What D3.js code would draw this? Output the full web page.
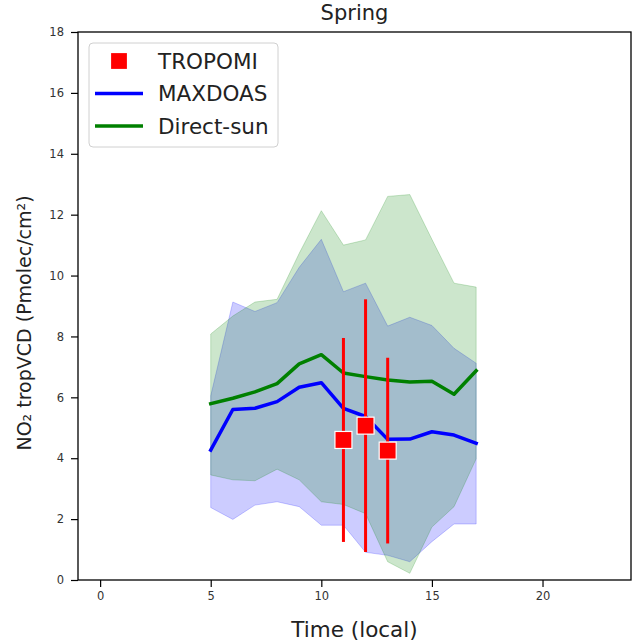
<!DOCTYPE html>
<html>
<head>
<meta charset="utf-8">
<script src="https://cdn.jsdelivr.net/npm/d3@7"></script>
<style>
body { margin: 0; background: #fff; }
svg { display: block; font-family: "DejaVu Sans", sans-serif; }
</style>
</head>
<body>
<svg id="chart" width="633" height="644"></svg>
<script>
// ---- data ----
const hours = [5, 6, 7, 8, 9, 10, 11, 12, 13, 14, 15, 16, 17];
const maxdoas = [4.27, 5.60, 5.64, 5.86, 6.33, 6.48, 5.64, 5.37, 4.62, 4.63, 4.87, 4.76, 4.49];
const maxdoasLow = [2.38, 1.99, 2.46, 2.57, 2.41, 1.80, 1.80, 0.91, 0.81, 0.60, 1.26, 1.84, 1.84];
const maxdoasHigh = [6.05, 9.13, 8.82, 9.11, 10.27, 11.19, 9.47, 9.75, 8.34, 8.63, 8.36, 7.61, 7.12];
const directsun = [5.79, 5.97, 6.18, 6.45, 7.10, 7.40, 6.80, 6.68, 6.57, 6.50, 6.53, 6.10, 6.87];
const directsunLow = [3.45, 3.29, 3.26, 3.64, 3.29, 2.57, 2.48, 2.18, 0.60, 0.22, 1.74, 2.41, 3.98];
const directsunHigh = [8.08, 8.67, 9.13, 9.22, 10.73, 12.13, 11.00, 11.17, 12.60, 12.66, 11.19, 9.75, 9.62];
const tropomiHours = [11, 12, 13];
const tropomi = [4.60, 5.07, 4.25];
const tropomiErr = [3.35, 4.15, 3.05];
const xTicks = [0, 5, 10, 15, 20];
const yTicks = [0, 2, 4, 6, 8, 10, 12, 14, 16, 18];
const legendLabels = ["TROPOMI", "MAXDOAS", "Direct-sun"];

// ---- layout ----
const svg = d3.select("#chart");
const L = 78, R = 631, T = 32, B = 580;
const x = d3.scaleLinear().domain([-1, 24]).range([L, R]);
const y = d3.scaleLinear().domain([0, 18]).range([B, T]);

const blue = "#0000ff", green = "#008000", red = "#ff0000";

function band(lo, hi) {
  return d3.area().x((d, i) => x(hours[i])).y0((d, i) => y(lo[i])).y1((d, i) => y(hi[i]))(hours);
}
svg.append("path").attr("d", band(maxdoasLow, maxdoasHigh))
  .attr("fill", blue).attr("fill-opacity", 0.2)
  .attr("stroke", blue).attr("stroke-opacity", 0.2).attr("stroke-width", 1);
svg.append("path").attr("d", band(directsunLow, directsunHigh))
  .attr("fill", green).attr("fill-opacity", 0.2)
  .attr("stroke", green).attr("stroke-opacity", 0.2).attr("stroke-width", 1);

const line = vals => d3.line().x((d, i) => x(hours[i])).y((d, i) => y(vals[i]))(hours);
svg.append("path").attr("d", line(maxdoas)).attr("fill", "none")
  .attr("stroke", blue).attr("stroke-width", 3.5).attr("stroke-linejoin", "round").attr("stroke-linecap", "square");
svg.append("path").attr("d", line(directsun)).attr("fill", "none")
  .attr("stroke", green).attr("stroke-width", 3.5).attr("stroke-linejoin", "round").attr("stroke-linecap", "square");

// TROPOMI error bars + markers
const tg = svg.append("g");
tropomiHours.forEach((h, i) => {
  tg.append("line").attr("x1", x(h)).attr("x2", x(h))
    .attr("y1", y(tropomi[i] - tropomiErr[i])).attr("y2", y(tropomi[i] + tropomiErr[i]))
    .attr("stroke", red).attr("stroke-width", 3);
});
const ms = 17;
tropomiHours.forEach((h, i) => {
  tg.append("rect").attr("x", x(h) - ms / 2).attr("y", y(tropomi[i]) - ms / 2)
    .attr("width", ms).attr("height", ms)
    .attr("fill", red).attr("stroke", "#fff").attr("stroke-width", 1.2);
});

// axes frame
svg.append("rect").attr("x", L).attr("y", T).attr("width", R - L).attr("height", B - T)
  .attr("fill", "none").attr("stroke", "#000").attr("stroke-width", 1.3);

const xAxis = svg.append("g").attr("transform", `translate(0,${B})`)
  .call(d3.axisBottom(x).tickValues(xTicks).tickSize(7).tickPadding(5).tickFormat(d3.format("d")));
const yAxis = svg.append("g").attr("transform", `translate(${L},0)`)
  .call(d3.axisLeft(y).tickValues(yTicks).tickSize(7).tickPadding(7).tickFormat(d3.format("d")));
[xAxis, yAxis].forEach(a => {
  a.select(".domain").remove();
  a.selectAll(".tick line").attr("stroke", "#000").attr("stroke-width", 1.2);
  a.selectAll(".tick text").attr("fill", "#333").style("font-family", "DejaVu Sans").style("font-size", "11.5px");
});

// labels
svg.append("text").attr("x", (L + R) / 2).attr("y", 20).attr("text-anchor", "middle")
  .style("font-size", "21px").attr("fill", "#222").text("Spring");
svg.append("text").attr("x", (L + R) / 2).attr("y", 637).attr("text-anchor", "middle")
  .style("font-size", "21.5px").attr("fill", "#222").text("Time (local)");
svg.append("text").attr("transform", `translate(31,${(T + B) / 2 + 17}) rotate(-90)`)
  .attr("text-anchor", "middle").style("font-size", "19px").attr("fill", "#222")
  .text("NO₂ tropVCD (Pmolec/cm²)");

// legend
const lg = svg.append("g");
lg.append("rect").attr("x", 89).attr("y", 43).attr("width", 189).attr("height", 104)
  .attr("rx", 4).attr("fill", "#fff").attr("fill-opacity", 0.8)
  .attr("stroke", "#d0d0d0").attr("stroke-width", 1);
const rowY = [61, 93.5, 126];
lg.append("rect").attr("x", 119 - 8.5).attr("y", rowY[0] - 8.5).attr("width", 17).attr("height", 17)
  .attr("fill", red).attr("stroke", "#fff").attr("stroke-width", 1.2);
lg.append("line").attr("x1", 95).attr("x2", 143).attr("y1", rowY[1]).attr("y2", rowY[1])
  .attr("stroke", blue).attr("stroke-width", 3.5);
lg.append("line").attr("x1", 95).attr("x2", 143).attr("y1", rowY[2]).attr("y2", rowY[2])
  .attr("stroke", green).attr("stroke-width", 3.5);
legendLabels.forEach((t, i) => {
  lg.append("text").attr("x", 158).attr("y", rowY[i]).attr("dy", "0.36em")
    .style("font-size", "21.5px").attr("fill", "#222").text(t);
});
</script>
</body>
</html>
